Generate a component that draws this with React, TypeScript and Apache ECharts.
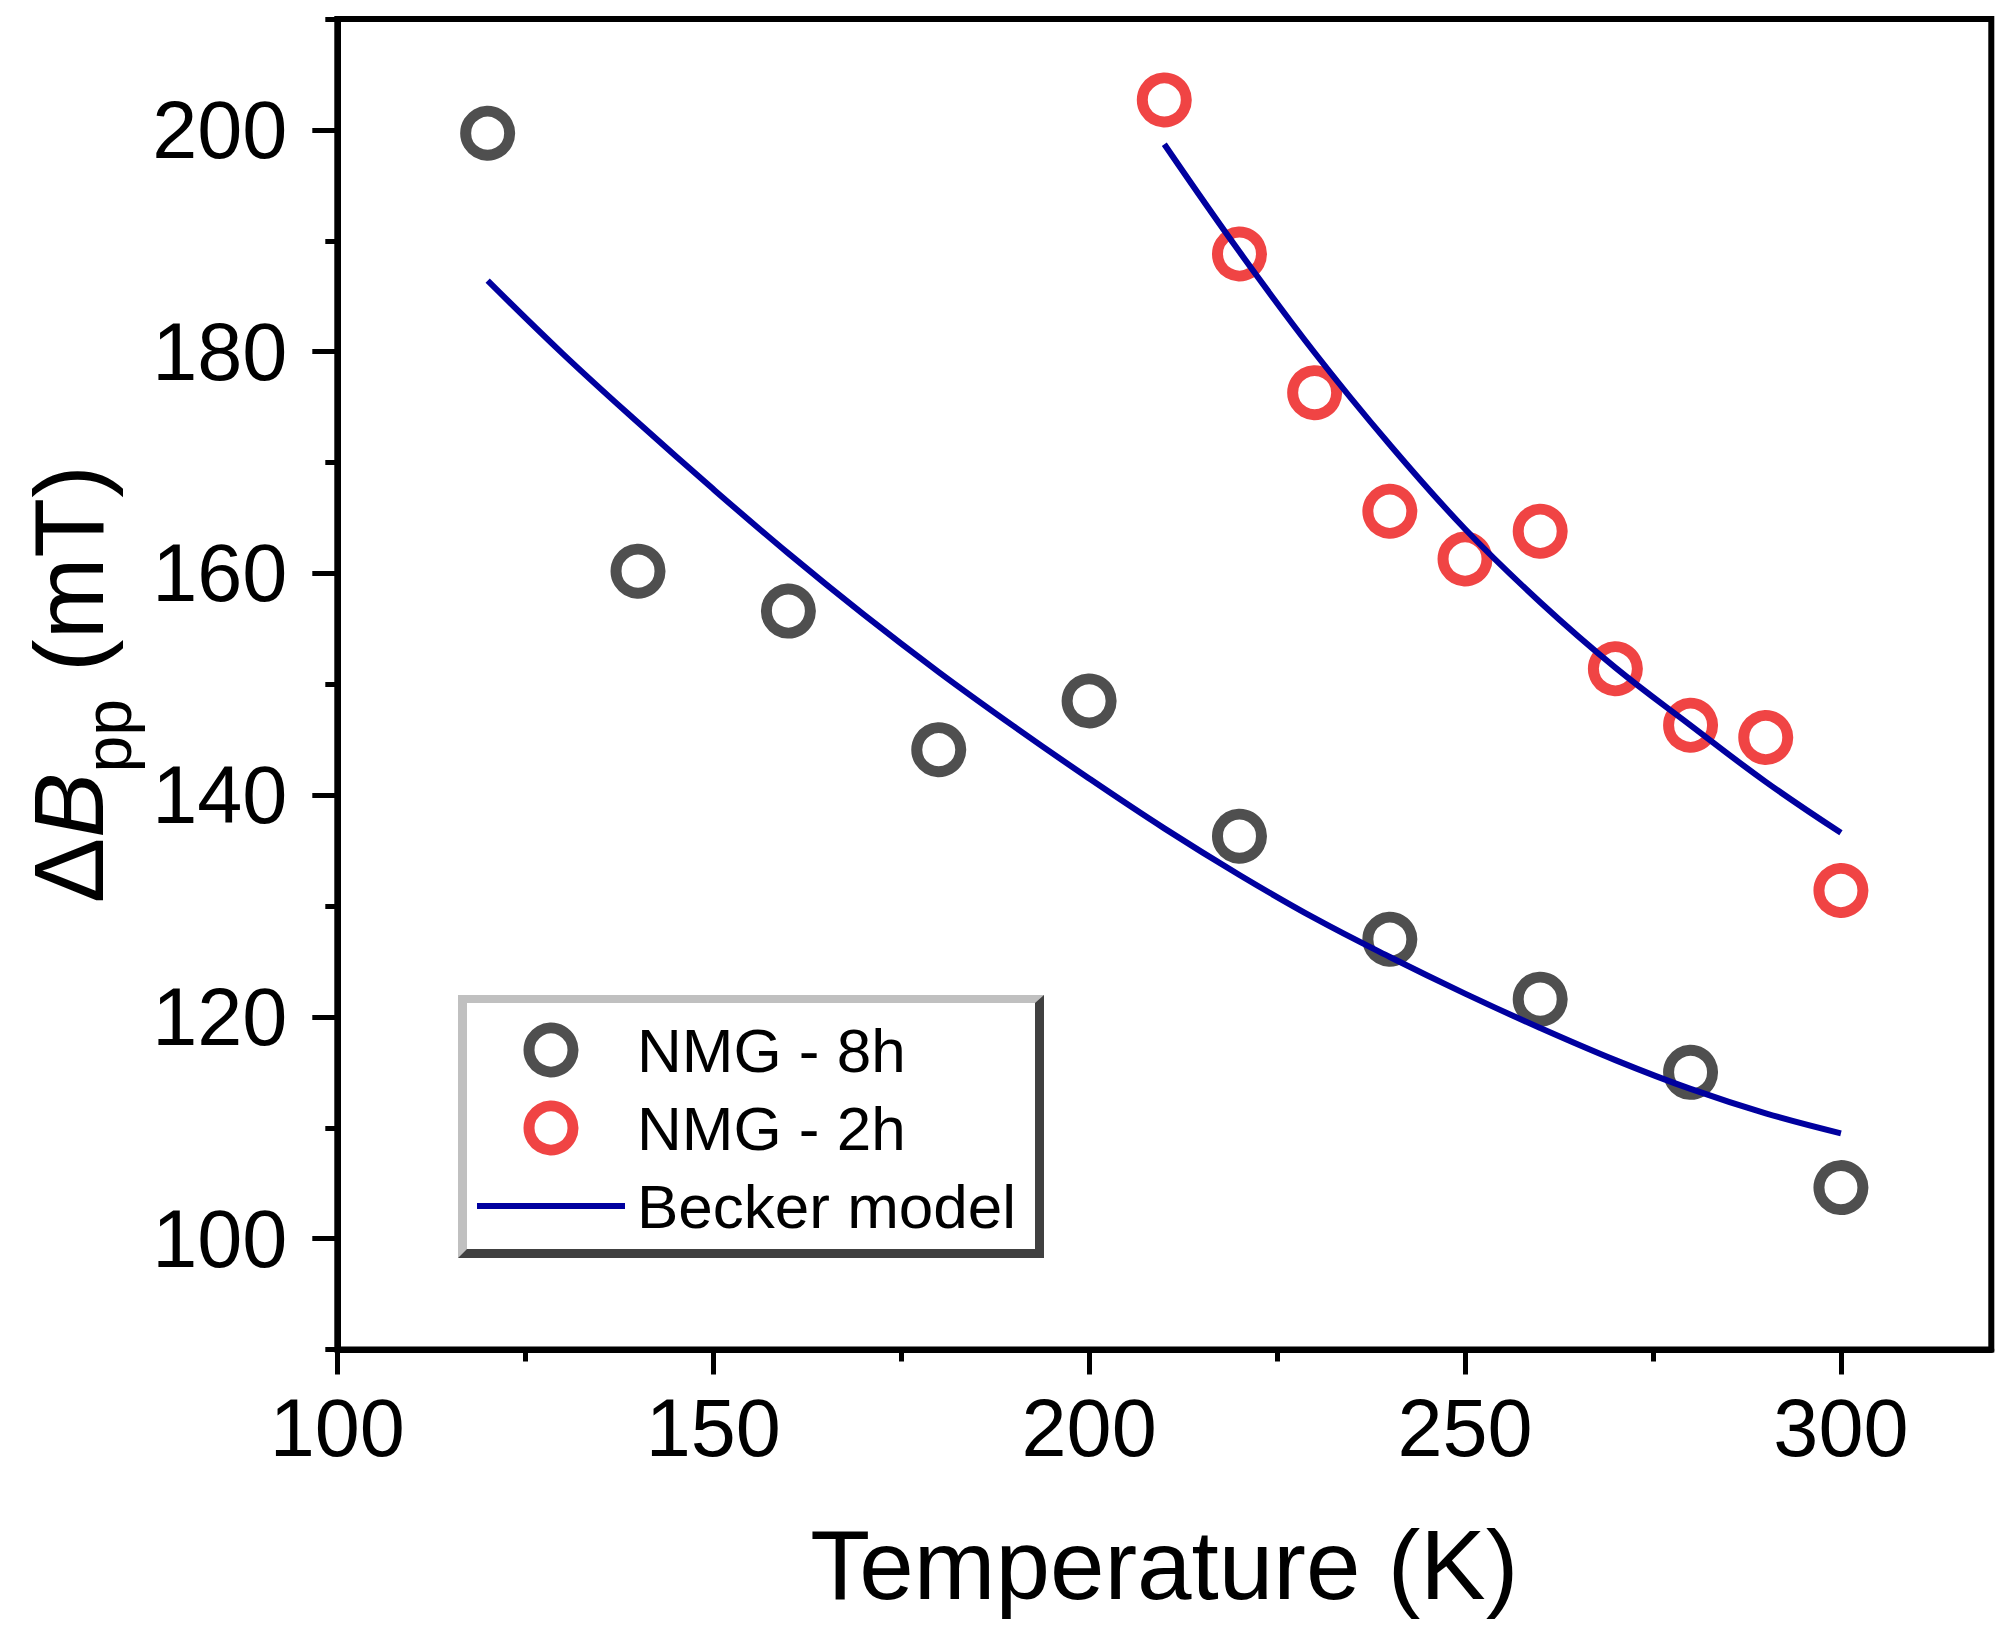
import React, { useEffect, useRef } from "react";
import * as echarts from "echarts";

// ---- data ----
const tempsNMG8h = [120, 140, 160, 180, 200, 220, 240, 260, 280, 300];
const dBppNMG8h = [199.7, 160.2, 156.6, 144.1, 148.5, 136.3, 127.0, 121.6, 115.0, 104.6];

const tempsNMG2h = [210, 220, 230, 240, 250, 260, 270, 280, 290, 300];
const dBppNMG2h = [202.7, 188.8, 176.3, 165.6, 161.3, 163.8, 151.4, 146.3, 145.2, 131.4];

// Becker model fits
const beckerLowT = [120, 130, 140, 150, 160, 170, 180, 190, 200, 210, 220, 230, 240, 250, 260, 270, 280, 290, 300];
const beckerLowV = [186.4, 179.8, 173.6, 167.6, 161.8, 156.3, 151.1, 146.2, 141.5, 137.0, 132.8, 128.9, 125.4, 122.1, 119.0, 116.1, 113.5, 111.3, 109.5];
const beckerHighT = [210, 220, 230, 240, 250, 260, 270, 280, 290, 300];
const beckerHighV = [198.7, 189.0, 179.9, 171.6, 164.0, 157.4, 151.5, 146.3, 141.2, 136.6];

const xMajorTicks = [100, 150, 200, 250, 300];
const xMinorTicks = [125, 175, 225, 275];
const yMajorTicks = [100, 120, 140, 160, 180, 200];
const yMinorTicks = [90, 110, 130, 150, 170, 190, 210];

const legendNames = ["NMG - 8h", "NMG - 2h", "Becker model"];

const GRAY = "#4f4f4f";
const RED = "#f04444";
const BLUE = "#00009f";
const FONT = "'Liberation Sans', Arial, sans-serif";

const pairs = (xs: number[], ys: number[]) => xs.map((x, i) => [x, ys[i]]);

export default function App() {
  const ref = useRef<HTMLDivElement>(null);

  useEffect(() => {
    document.body.style.margin = "0";
    if (!ref.current) return;
    const chart = echarts.init(ref.current, undefined, { renderer: "svg" });

    const axisCommonX = { type: "value" as const, min: 100, max: 320, gridIndex: 0 };
    const axisCommonY = { type: "value" as const, min: 90, max: 210, gridIndex: 0 };

    chart.setOption({
      animation: false,
      backgroundColor: "#ffffff",
      textStyle: { fontFamily: FONT },
      grid: {
        left: 337.3,
        right: 14.7,
        top: 19,
        bottom: 288.5,
        show: true,
        borderColor: "#000",
        borderWidth: 6,
        backgroundColor: "transparent",
        containLabel: false,
      },
      xAxis: [
        {
          ...axisCommonX,
          position: "bottom",
          name: "Temperature (K)",
          nameLocation: "middle",
          nameGap: 166,
          nameTextStyle: { fontSize: 98, color: "#000", fontFamily: FONT },
          axisLine: { show: true, lineStyle: { color: "#000", width: 6 } },
          axisTick: {
            show: true,
            inside: false,
            length: 25,
            lineStyle: { color: "#000", width: 5 },
            customValues: xMajorTicks,
          },
          axisLabel: {
            show: true,
            margin: 38,
            fontSize: 81,
            color: "#000",
            fontFamily: FONT,
            customValues: xMajorTicks,
          },
          splitLine: { show: false },
        },
        {
          ...axisCommonX,
          position: "bottom",
          axisLine: { show: false },
          axisTick: {
            show: true,
            inside: false,
            length: 12,
            lineStyle: { color: "#000", width: 5 },
            customValues: xMinorTicks,
          },
          axisLabel: { show: false },
          splitLine: { show: false },
        },
      ],
      yAxis: [
        {
          ...axisCommonY,
          position: "left",
          name: "{d|Δ}{b|B}{s|pp}{d| (mT)}",
          nameLocation: "middle",
          nameRotate: 90,
          nameGap: 196,
          nameTextStyle: {
            color: "#000",
            fontFamily: FONT,
            rich: {
              d: { fontSize: 98, lineHeight: 98, verticalAlign: "top", fontFamily: FONT, color: "#000" },
              b: { fontSize: 98, lineHeight: 98, verticalAlign: "top", fontStyle: "italic", fontFamily: FONT, color: "#000" },
              s: { fontSize: 66, lineHeight: 66, verticalAlign: "top", padding: [55, 0, 0, 0], fontFamily: FONT, color: "#000" },
            },
          },
          axisLine: { show: true, lineStyle: { color: "#000", width: 6 } },
          axisTick: {
            show: true,
            inside: false,
            length: 25,
            lineStyle: { color: "#000", width: 5 },
            customValues: yMajorTicks,
          },
          axisLabel: {
            show: true,
            margin: 50,
            fontSize: 81,
            color: "#000",
            fontFamily: FONT,
            customValues: yMajorTicks,
          },
          splitLine: { show: false },
        },
        {
          ...axisCommonY,
          position: "left",
          axisLine: { show: false },
          axisTick: {
            show: true,
            inside: false,
            length: 12,
            lineStyle: { color: "#000", width: 5 },
            customValues: yMinorTicks,
          },
          axisLabel: { show: false },
          splitLine: { show: false },
        },
      ],
      graphic: [
        {
          type: "group",
          z: 90,
          children: [
            { type: "rect", shape: { x: 458, y: 995, width: 586, height: 263 }, style: { fill: "#404040" } },
            {
              type: "polygon",
              shape: {
                points: [
                  [458, 995],
                  [1044, 995],
                  [1035, 1003],
                  [467, 1003],
                  [467, 1249],
                  [458, 1258],
                ],
              },
              style: { fill: "#c0c0c0" },
            },
            { type: "rect", shape: { x: 467, y: 1003, width: 568, height: 246 }, style: { fill: "#ffffff" } },
          ],
        },
      ],
      legend: {
        show: true,
        orient: "vertical",
        left: 474,
        top: 1018,
        padding: 0,
        itemWidth: 148,
        itemHeight: 44,
        itemGap: 14,
        z: 100,
        selectedMode: false,
        textStyle: { fontSize: 62, lineHeight: 64, color: "#000", fontFamily: FONT, padding: [0, 0, 0, 7] },
        data: [
          { name: legendNames[0], icon: "circle", itemStyle: { color: "transparent", borderColor: GRAY, borderWidth: 11, opacity: 1 } },
          { name: legendNames[1], icon: "circle", itemStyle: { color: "transparent", borderColor: RED, borderWidth: 11, opacity: 1 } },
          {
            name: legendNames[2],
            lineStyle: { color: BLUE, width: 6, opacity: 1 },
            itemStyle: { color: "transparent", borderColor: "transparent", borderWidth: 0, opacity: 0 },
          },
        ],
      },
      series: [
        {
          name: legendNames[0],
          type: "scatter",
          xAxisIndex: 0,
          yAxisIndex: 0,
          symbol: "circle",
          symbolSize: 44,
          itemStyle: { color: "transparent", borderColor: GRAY, borderWidth: 11, opacity: 1 },
          data: pairs(tempsNMG8h, dBppNMG8h),
          z: 2,
        },
        {
          name: legendNames[1],
          type: "scatter",
          xAxisIndex: 0,
          yAxisIndex: 0,
          symbol: "circle",
          symbolSize: 44,
          itemStyle: { color: "transparent", borderColor: RED, borderWidth: 11, opacity: 1 },
          data: pairs(tempsNMG2h, dBppNMG2h),
          z: 2,
        },
        {
          name: legendNames[2],
          type: "line",
          xAxisIndex: 0,
          yAxisIndex: 0,
          symbol: "none",
          showSymbol: false,
          smooth: 0.4,
          lineStyle: { color: BLUE, width: 6 },
          itemStyle: { color: BLUE },
          data: pairs(beckerLowT, beckerLowV),
          z: 3,
        },
        {
          name: legendNames[2],
          type: "line",
          xAxisIndex: 0,
          yAxisIndex: 0,
          symbol: "none",
          showSymbol: false,
          smooth: 0.4,
          lineStyle: { color: BLUE, width: 6 },
          itemStyle: { color: BLUE },
          data: pairs(beckerHighT, beckerHighV),
          z: 3,
        },
      ],
    });

    return () => chart.dispose();
  }, []);

  return <div ref={ref} style={{ width: 2006, height: 1638 }} />;
}
